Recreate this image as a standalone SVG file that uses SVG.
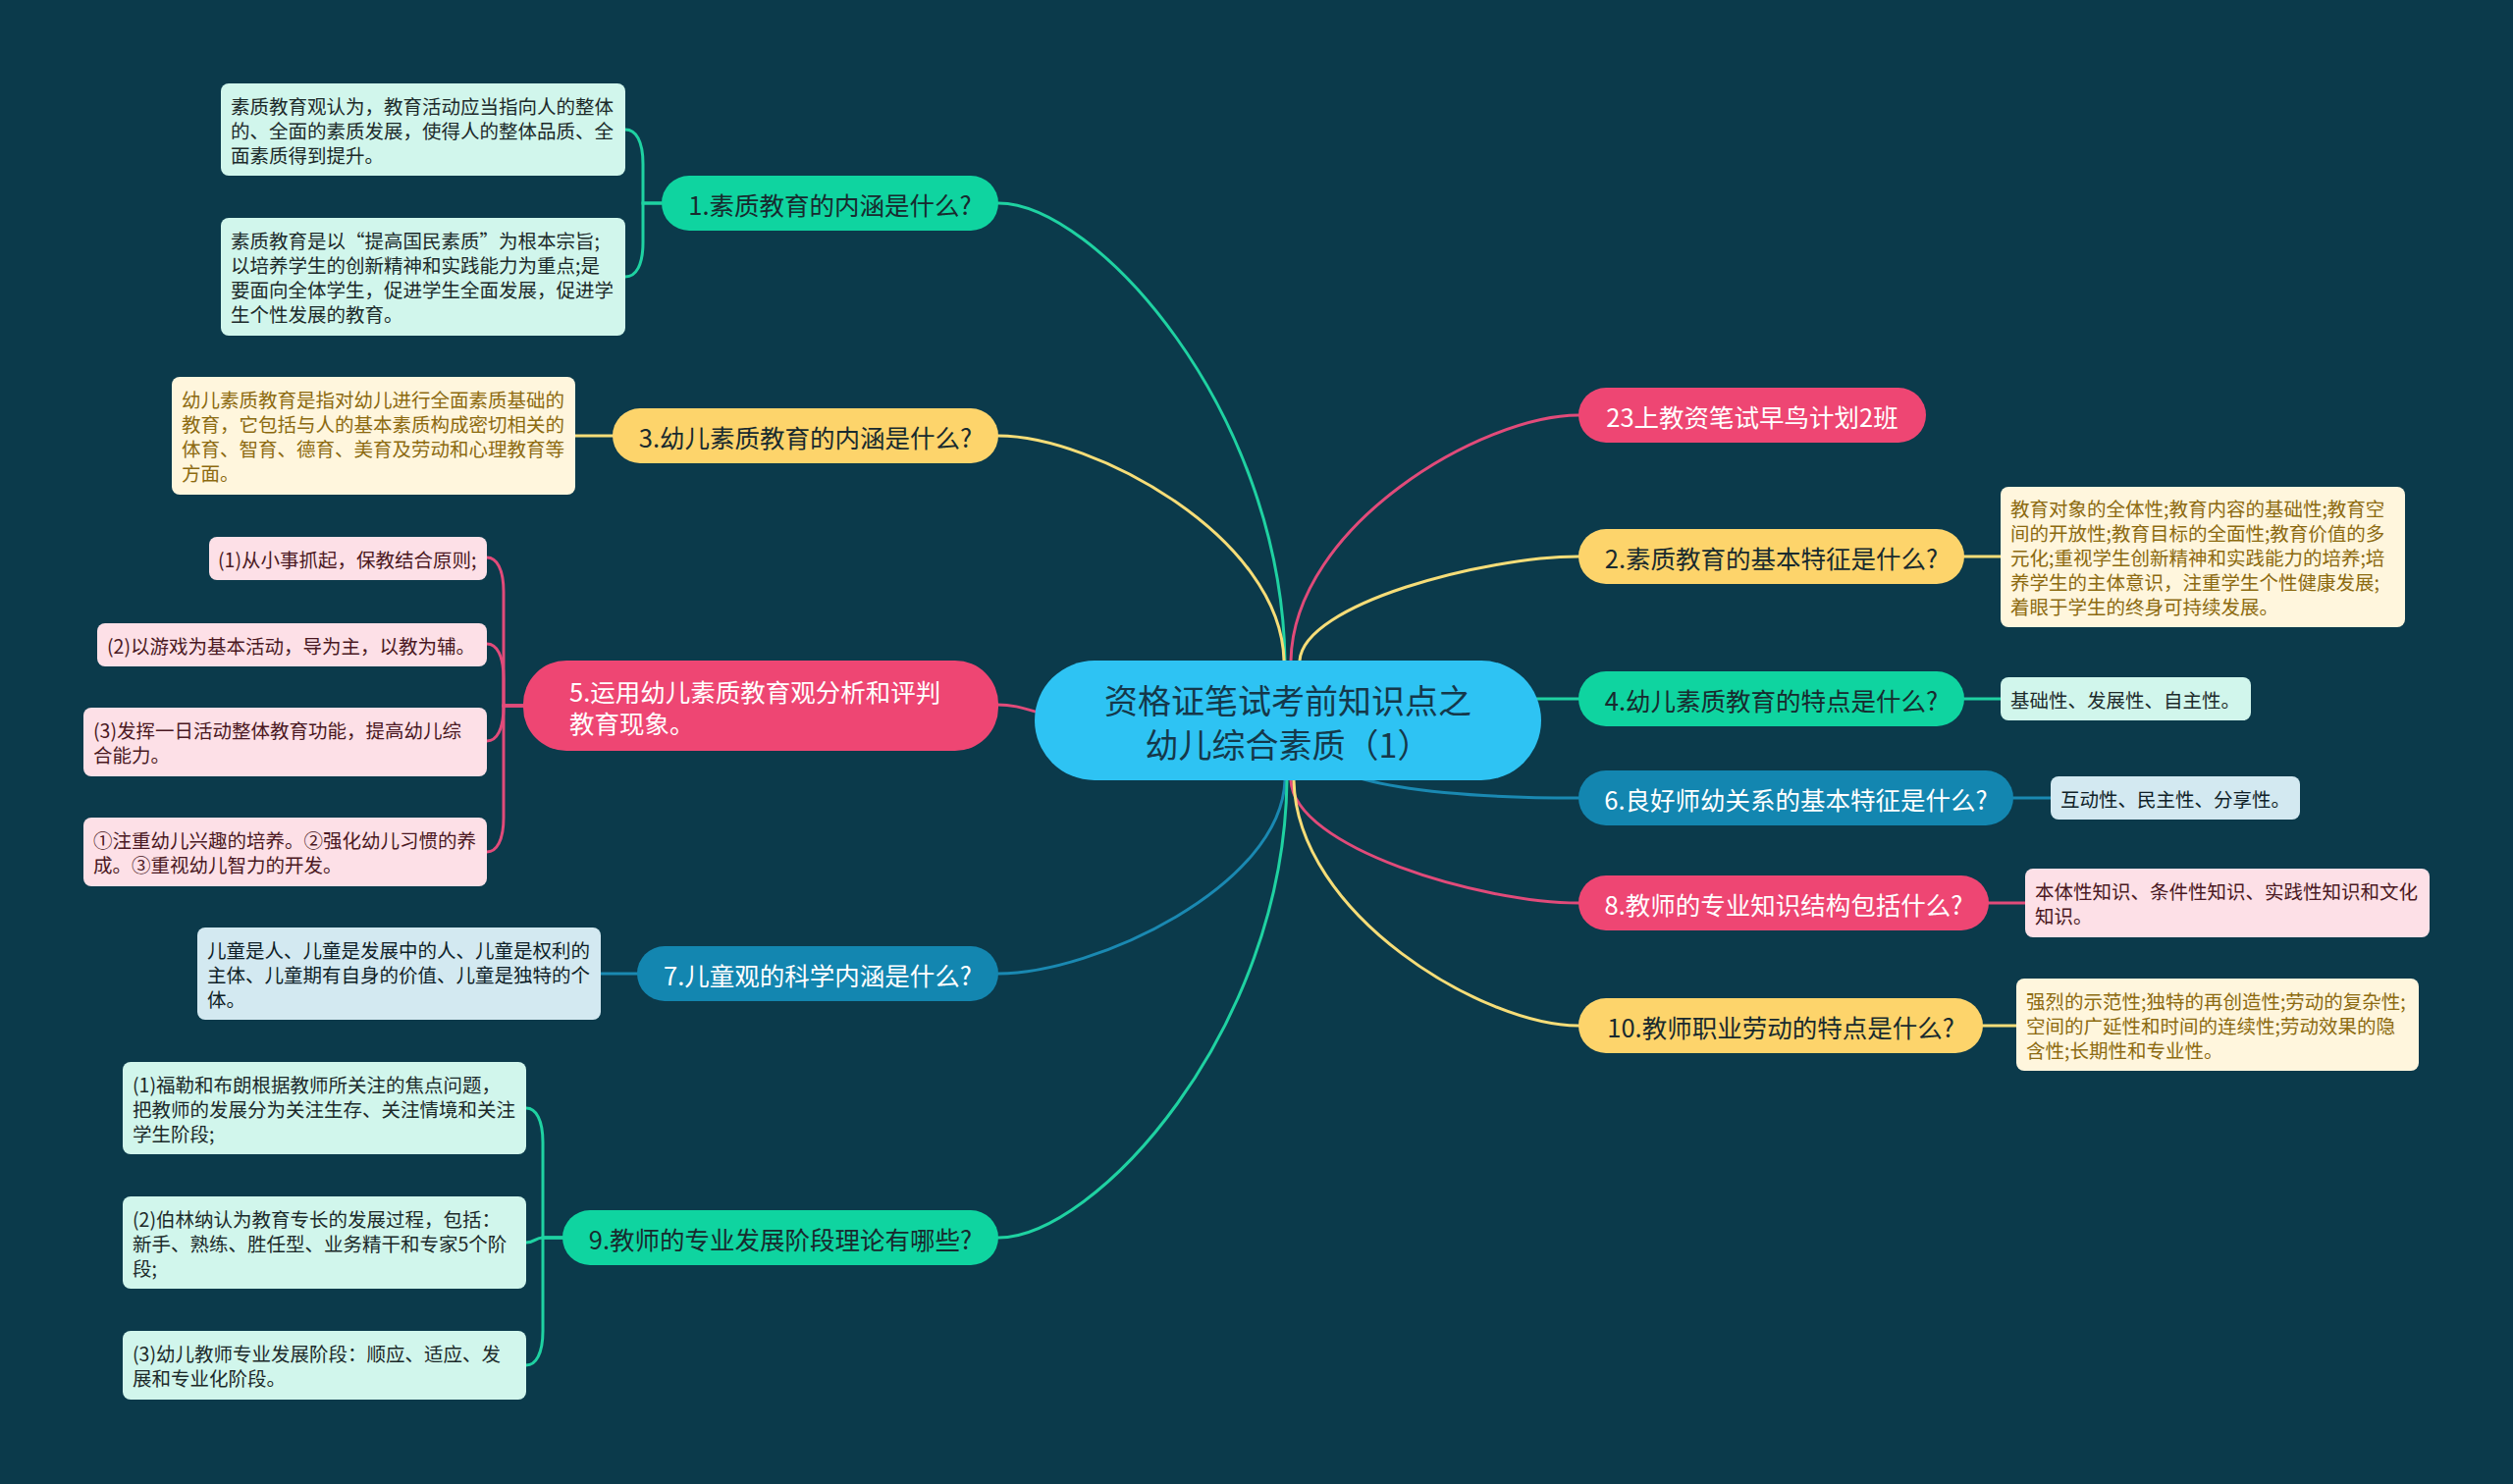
<svg xmlns="http://www.w3.org/2000/svg" width="2560" height="1512" viewBox="0 0 2560 1512">
<style>
text{font-family:"Noto Sans CJK SC","Noto Sans",sans-serif;}
.c{fill:none;stroke-width:3;stroke-linecap:round;}
.cg{stroke:#1fd2a2;}
.cy{stroke:#f6dd78;}
.cp{stroke:#e14b7a;}
.cb{stroke:#1a89b2;}
.t1{font-size:25.5px;text-anchor:middle;dominant-baseline:central;}
.lf{font-size:19.5px;dominant-baseline:central;}
.dk{fill:#182a2e;}
.wh{fill:#ffffff;}
.bg-g{fill:#0fd4a0;}
.bg-y{fill:#fdd46b;}
.bg-p{fill:#ee4673;}
.bg-b{fill:#1386b0;}
.lg{fill:#d1f6ec;}
.ly{fill:#fff6dd;}
.lp{fill:#fde0e7;}
.lb{fill:#d3e9f1;}
.tg{fill:#1c2a2a;}
.ty{fill:#8c6a10;}
.tp{fill:#4a1822;}
.tb{fill:#0f1f28;}
</style>
<rect x="0" y="0" width="2560" height="1512" fill="#0b3a4b"/>

<g id="connectors">
  <!-- main branches -->
  <path class="c cg" d="M1309 673 C1305 417 1115 207 1017 207"/>
  <path class="c cy" d="M1308 673 C1305 547 1114 444 1017 444"/>
  <path class="c cp" d="M1120 734 C1060 734 1050 718 1016 718"/>
  <path class="c cb" d="M1309 795 C1305 903 1115 992 1017 992"/>
  <path class="c cg" d="M1311 795 C1308 1051 1115 1261 1017 1261"/>
  <path class="c cp" d="M1315 673 C1318 535 1510 423 1608 423"/>
  <path class="c cy" d="M1324 673 C1328 615 1513 567 1608 567"/>
  <path class="c cg" d="M1500 712 L1608 712"/>
  <path class="c cb" d="M1330 760 C1350 800 1470 813 1608 813"/>
  <path class="c cp" d="M1315 795 C1318 864 1510 920 1608 920"/>
  <path class="c cy" d="M1318 795 C1321 932 1511 1045 1608 1045"/>
  <!-- leaf connectors -->
  <path class="c cg" d="M674 207 H655 V167 C655 144 648 132 637 132"/>
  <path class="c cg" d="M674 207 H655 V247 C655 270 648 282 637 282"/>
  <path class="c cy" d="M625 444 H586"/>
  <path class="c cp" d="M534 719 H513 V603 C513 580 506 568 496 568"/>
  <path class="c cp" d="M534 719 H513 V691 C513 668 506 656 496 656"/>
  <path class="c cp" d="M534 719 H513 V720 C513 743 506 755 496 755"/>
  <path class="c cp" d="M534 719 H513 V833 C513 856 506 868 496 868"/>
  <path class="c cb" d="M650 992 H612"/>
  <path class="c cg" d="M575 1261 H553 V1164 C553 1141 546 1129 536 1129"/>
  <path class="c cg" d="M575 1261 H553 C545 1261 545 1266 536 1266"/>
  <path class="c cg" d="M575 1261 H553 V1356 C553 1379 546 1391 536 1391"/>
  <path class="c cy" d="M2000 567 H2038"/>
  <path class="c cg" d="M2000 712 H2038"/>
  <path class="c cb" d="M2051 813 H2089"/>
  <path class="c cp" d="M2025 920 H2063"/>
  <path class="c cy" d="M2020 1045 H2054"/>
</g>

<g id="center">
  <rect x="1054" y="673" width="516" height="122" rx="61" fill="#2ec3f3"/>
  <text x="1312" y="712" font-size="34" text-anchor="middle" dominant-baseline="central" fill="#15384a">资格证笔试考前知识点之</text>
  <text x="1312" y="757" font-size="34" text-anchor="middle" dominant-baseline="central" fill="#15384a">幼儿综合素质（1）</text>
</g>

<g id="n1">
  <rect class="bg-g" x="674" y="179" width="343" height="56" rx="28"/>
  <text class="t1 dk" x="845.5" y="207">1.素质教育的内涵是什么?</text>
</g>
<g id="n1a">
  <rect class="lg" x="225" y="85" width="412" height="94" rx="8"/>
  <text class="lf tg" x="235" y="107">素质教育观认为，教育活动应当指向人的整体</text>
  <text class="lf tg" x="235" y="132">的、全面的素质发展，使得人的整体品质、全</text>
  <text class="lf tg" x="235" y="157">面素质得到提升。</text>
</g>
<g id="n1b">
  <rect class="lg" x="225" y="222" width="412" height="120" rx="8"/>
  <text class="lf tg" x="235" y="244.5">素质教育是以“提高国民素质”为根本宗旨;</text>
  <text class="lf tg" x="235" y="269.5">以培养学生的创新精神和实践能力为重点;是</text>
  <text class="lf tg" x="235" y="294.5">要面向全体学生，促进学生全面发展，促进学</text>
  <text class="lf tg" x="235" y="319.5">生个性发展的教育。</text>
</g>

<g id="n3">
  <rect class="bg-y" x="624" y="416" width="393" height="56" rx="28"/>
  <text class="t1 dk" x="820.5" y="444">3.幼儿素质教育的内涵是什么?</text>
</g>
<g id="n3a">
  <rect class="ly" x="175" y="384" width="411" height="120" rx="8"/>
  <text class="lf ty" x="185" y="406.5">幼儿素质教育是指对幼儿进行全面素质基础的</text>
  <text class="lf ty" x="185" y="431.5">教育，它包括与人的基本素质构成密切相关的</text>
  <text class="lf ty" x="185" y="456.5">体育、智育、德育、美育及劳动和心理教育等</text>
  <text class="lf ty" x="185" y="481.5">方面。</text>
</g>

<g id="n5">
  <rect class="bg-p" x="533" y="673" width="484" height="92" rx="44"/>
  <text class="wh" x="580" y="703" font-size="25.5" dominant-baseline="central">5.运用幼儿素质教育观分析和评判</text>
  <text class="wh" x="580" y="735" font-size="25.5" dominant-baseline="central">教育现象。</text>
</g>
<g id="n5a">
  <rect class="lp" x="213" y="547" width="283" height="44" rx="8"/>
  <text class="lf tp" x="222" y="569">(1)从小事抓起，保教结合原则;</text>
</g>
<g id="n5b">
  <rect class="lp" x="99" y="635" width="397" height="44" rx="8"/>
  <text class="lf tp" x="109" y="657">(2)以游戏为基本活动，导为主，以教为辅。</text>
</g>
<g id="n5c">
  <rect class="lp" x="85" y="721" width="411" height="70" rx="8"/>
  <text class="lf tp" x="95" y="743.5">(3)发挥一日活动整体教育功能，提高幼儿综</text>
  <text class="lf tp" x="95" y="768.5">合能力。</text>
</g>
<g id="n5d">
  <rect class="lp" x="85" y="833" width="411" height="70" rx="8"/>
  <text class="lf tp" x="95" y="855.5">①注重幼儿兴趣的培养。②强化幼儿习惯的养</text>
  <text class="lf tp" x="95" y="880.5">成。③重视幼儿智力的开发。</text>
</g>

<g id="n7">
  <rect class="bg-b" x="649" y="964" width="368" height="56" rx="28"/>
  <text class="t1 wh" x="833" y="992">7.儿童观的科学内涵是什么?</text>
</g>
<g id="n7a">
  <rect class="lb" x="201" y="945" width="411" height="94" rx="8"/>
  <text class="lf tb" x="211" y="967">儿童是人、儿童是发展中的人、儿童是权利的</text>
  <text class="lf tb" x="211" y="992">主体、儿童期有自身的价值、儿童是独特的个</text>
  <text class="lf tb" x="211" y="1017">体。</text>
</g>

<g id="n9">
  <rect class="bg-g" x="573" y="1233" width="444" height="56" rx="28"/>
  <text class="t1 dk" x="795" y="1261">9.教师的专业发展阶段理论有哪些?</text>
</g>
<g id="n9a">
  <rect class="lg" x="125" y="1082" width="411" height="94" rx="8"/>
  <text class="lf tg" x="135" y="1104">(1)福勒和布朗根据教师所关注的焦点问题，</text>
  <text class="lf tg" x="135" y="1129">把教师的发展分为关注生存、关注情境和关注</text>
  <text class="lf tg" x="135" y="1154">学生阶段;</text>
</g>
<g id="n9b">
  <rect class="lg" x="125" y="1219" width="411" height="94" rx="8"/>
  <text class="lf tg" x="135" y="1241">(2)伯林纳认为教育专长的发展过程，包括：</text>
  <text class="lf tg" x="135" y="1266">新手、熟练、胜任型、业务精干和专家5个阶</text>
  <text class="lf tg" x="135" y="1291">段;</text>
</g>
<g id="n9c">
  <rect class="lg" x="125" y="1356" width="411" height="70" rx="8"/>
  <text class="lf tg" x="135" y="1378.5">(3)幼儿教师专业发展阶段：顺应、适应、发</text>
  <text class="lf tg" x="135" y="1403.5">展和专业化阶段。</text>
</g>

<g id="n23">
  <rect class="bg-p" x="1608" y="395" width="354" height="56" rx="28"/>
  <text class="t1 wh" x="1785" y="423">23上教资笔试早鸟计划2班</text>
</g>

<g id="n2">
  <rect class="bg-y" x="1608" y="539" width="393" height="56" rx="28"/>
  <text class="t1 dk" x="1804.5" y="567">2.素质教育的基本特征是什么?</text>
</g>
<g id="n2a">
  <rect class="ly" x="2038" y="496" width="412" height="143" rx="8"/>
  <text class="lf ty" x="2048" y="517.5">教育对象的全体性;教育内容的基础性;教育空</text>
  <text class="lf ty" x="2048" y="542.5">间的开放性;教育目标的全面性;教育价值的多</text>
  <text class="lf ty" x="2048" y="567.5">元化;重视学生创新精神和实践能力的培养;培</text>
  <text class="lf ty" x="2048" y="592.5">养学生的主体意识，注重学生个性健康发展;</text>
  <text class="lf ty" x="2048" y="617.5">着眼于学生的终身可持续发展。</text>
</g>

<g id="n4">
  <rect class="bg-g" x="1608" y="684" width="393" height="56" rx="28"/>
  <text class="t1 dk" x="1804.5" y="712">4.幼儿素质教育的特点是什么?</text>
</g>
<g id="n4a">
  <rect class="lg" x="2038" y="690" width="255" height="44" rx="8"/>
  <text class="lf tg" x="2048" y="712">基础性、发展性、自主性。</text>
</g>

<g id="n6">
  <rect class="bg-b" x="1608" y="785" width="443" height="56" rx="28"/>
  <text class="t1 wh" x="1829.5" y="813">6.良好师幼关系的基本特征是什么?</text>
</g>
<g id="n6a">
  <rect class="lb" x="2089" y="791" width="254" height="44" rx="8"/>
  <text class="lf tb" x="2099" y="813">互动性、民主性、分享性。</text>
</g>

<g id="n8">
  <rect class="bg-p" x="1608" y="892" width="418" height="56" rx="28"/>
  <text class="t1 wh" x="1817" y="920">8.教师的专业知识结构包括什么?</text>
</g>
<g id="n8a">
  <rect class="lp" x="2063" y="885" width="412" height="70" rx="8"/>
  <text class="lf tp" x="2073" y="907.5">本体性知识、条件性知识、实践性知识和文化</text>
  <text class="lf tp" x="2073" y="932.5">知识。</text>
</g>

<g id="n10">
  <rect class="bg-y" x="1608" y="1017" width="412" height="56" rx="28"/>
  <text class="t1 dk" x="1814" y="1045">10.教师职业劳动的特点是什么?</text>
</g>
<g id="n10a">
  <rect class="ly" x="2054" y="997" width="410" height="94" rx="8"/>
  <text class="lf ty" x="2064" y="1019">强烈的示范性;独特的再创造性;劳动的复杂性;</text>
  <text class="lf ty" x="2064" y="1044">空间的广延性和时间的连续性;劳动效果的隐</text>
  <text class="lf ty" x="2064" y="1069">含性;长期性和专业性。</text>
</g>
</svg>
